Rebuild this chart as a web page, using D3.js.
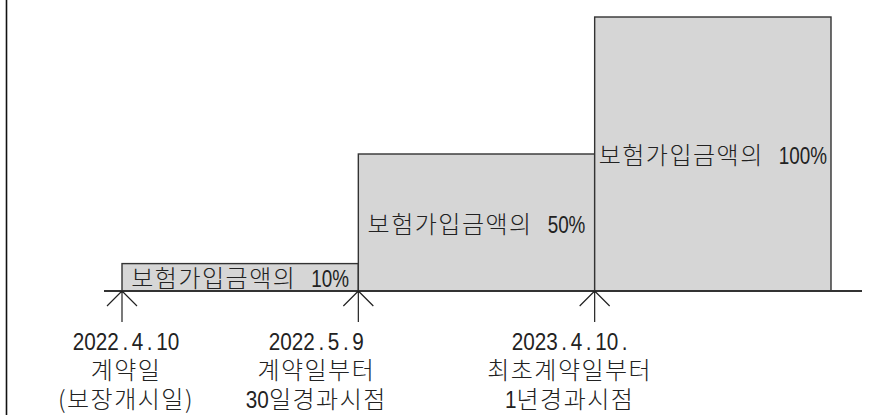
<!DOCTYPE html>
<html>
<head>
<meta charset="utf-8">
<script src="https://cdn.jsdelivr.net/npm/d3@7"></script>
<style>
  body { margin: 0; background: #fff; }
  text { fill: #222; }
  .kr { font-family: "Noto Sans CJK KR", "Noto Sans", sans-serif; font-weight: 300; font-size: 24px; letter-spacing: 1.5px; }
  .num { font-family: "Liberation Sans", Arial, sans-serif; font-weight: 400; font-size: 23px; }
</style>
</head>
<body>
<svg width="882" height="415"></svg>
<script>
// coverage steps (percent of insured amount)
var coverage = [10, 50, 100];
var barPrefix = "보험가입금액의";

// milestone labels under each arrow
var milestoneDates = ["2022.4.10", "2022.5.9", "2023.4.10."];
var milestoneLine2 = ["계약일", "계약일부터", "최초계약일부터"];
var milestoneLine3 = ["(보장개시일)", "30일경과시점", "1년경과시점"];

var svg = d3.select("svg");

var baseY = 291;
var dotGap = 4;

// step index -> x
var x = d3.scaleLinear()
    .domain([0, 3])
    .range([122, 831]);

// percent -> y
var y = d3.scaleLinear()
    .domain([0, 100])
    .range([baseY, 17]);

// writes a mixed hangul / digit string centred on 0 inside g
// numScale squeezes the digits like the narrow original font
function mixedText(g, str, numScale) {
    var tokens = str.match(/ |[0-9.%]+|[^0-9.% ]+/g);
    var cursor = 0;
    var inner = g.append("g");
    tokens.forEach(function (s) {
        if (s === " ") { cursor += 15; return; }
        var isNum = /^[0-9.%]+$/.test(s);
        var t = inner.append("text").attr("class", isNum ? "num" : "kr");
        if (isNum) {
            // dots get some room on both sides
            s.split(/(\.)/).filter(function (p) { return p.length; }).forEach(function (p, k) {
                t.append("tspan")
                    .attr("dx", k === 0 ? 0 : dotGap)
                    .text(p);
            });
            var w = t.node().getBBox().width;
            t.attr("transform", "translate(" + cursor + ",0) scale(" + numScale + ",1)");
            cursor += w * numScale;
        } else {
            t.attr("x", cursor).text(s);
            cursor += t.node().getBBox().width;
        }
    });
    inner.attr("transform", "translate(" + (-cursor / 2) + ",0)");
}

// left frame line
svg.append("line")
    .attr("x1", 6.5).attr("x2", 6.5)
    .attr("y1", 0).attr("y2", 415)
    .style("stroke", "#111")
    .style("stroke-width", 1.6);

// bars
svg.selectAll("rect.step")
    .data(coverage)
    .enter()
    .append("rect")
    .attr("class", "step")
    .attr("x", function (d, i) { return x(i); })
    .attr("y", function (d) { return y(d); })
    .attr("width", function (d, i) { return x(i + 1) - x(i); })
    .attr("height", function (d) { return baseY - y(d); })
    .style("fill", "#d6d6d6")
    .style("stroke", "#333")
    .style("stroke-width", 1.4);

// bar labels, centred in each bar
svg.selectAll("g.barlabel")
    .data(coverage)
    .enter()
    .append("g")
    .attr("class", "barlabel")
    .attr("transform", function (d, i) {
        return "translate(" + ((x(i) + x(i + 1)) / 2) + "," + ((y(d) + baseY) / 2 + 10) + ")";
    })
    .each(function (d) { mixedText(d3.select(this), barPrefix + " " + d + "%", 0.82); });

// baseline
svg.append("line")
    .attr("x1", 104).attr("x2", 862)
    .attr("y1", baseY).attr("y2", baseY)
    .style("stroke", "#333")
    .style("stroke-width", 2);

// arrows at each milestone
svg.selectAll("g.arrow")
    .data(milestoneDates)
    .enter()
    .append("g")
    .attr("class", "arrow")
    .attr("transform", function (d, i) { return "translate(" + x(i) + "," + baseY + ")"; })
    .append("path")
    .attr("d", "M0,0V31M0,0L-15,15M0,0L15,15")
    .style("fill", "none")
    .style("stroke", "#222")
    .style("stroke-width", 1.2);

// milestone text, nudged a bit as in the original drawing
var labelShift = [4, -42, -25];
var labels = svg.selectAll("g.milestone")
    .data(milestoneDates)
    .enter()
    .append("g")
    .attr("class", "milestone")
    .attr("transform", function (d, i) { return "translate(" + (x(i) + labelShift[i]) + ",0)"; });

labels.each(function (d, i) {
    var g = d3.select(this);
    mixedText(g.append("g").attr("transform", "translate(0,350)"), d, 0.9);
    mixedText(g.append("g").attr("transform", "translate(0,379)"), milestoneLine2[i], 0.9);
    mixedText(g.append("g").attr("transform", "translate(0,408)"), milestoneLine3[i], 0.9);
});
</script>
</body>
</html>
